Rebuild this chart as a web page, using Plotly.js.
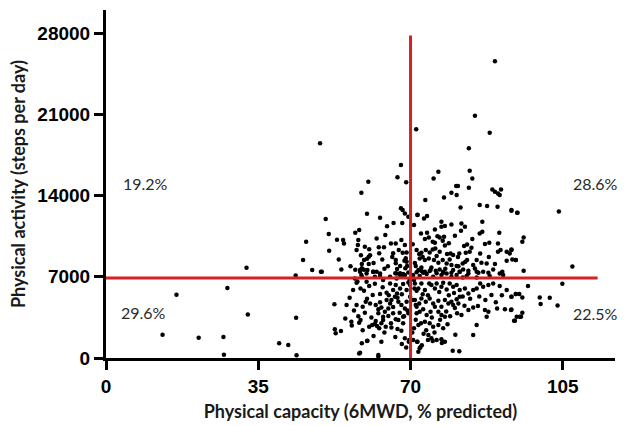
<!DOCTYPE html>
<html>
<head>
<meta charset="utf-8">
<script src="https://cdn.plot.ly/plotly-3.0.1.min.js"></script>
<style>html,body{margin:0;padding:0;background:#fff;}#chart{width:624px;height:426px;}</style>
</head>
<body>
<div id="chart"></div>
<script>
// 6MWD (% predicted) values
const capacity = [
49.2,89.4,84.8,71.3,88.2,83.4,67.8,67.0,69.0,75.3,76.4,83.6,84.2,60.3,80.5,80.9,83.4,88.8,90.8,
32.3,43.6,16.2,27.9,32.6,43.7,13.0,21.3,27.0,39.8,41.9,27.1,43.8,
58.7,50.5,60.0,63.0,67.8,68.2,68.7,71.6,69.5,66.1,64.6,68.1,57.3,58.2,51.2,46.0,53.1,54.5,54.7,58.0,57.9,65.5,66.6,67.9,68.7,
51.3,57.6,60.5,62.7,63.9,58.6,60.7,62.8,66.0,68.2,69.1,45.3,53.5,59.3,60.0,60.4,66.6,68.9,68.6,58.8,60.4,58.8,66.6,66.9,67.6,69.1,69.2,68.8,
47.4,49.4,54.1,57.3,58.4,59.3,60.1,61.4,62.2,64.0,66.5,67.6,68.3,69.5,63.0,58.7,71.8,
57.6,52.5,55.3,56.4,58.2,58.5,52.6,52.8,54.0,58.8,60.1,58.4,62.6,61.2,61.8,62.3,62.8,63.7,60.5,65.6,67.9,68.7,69.7,67.2,68.3,69.5,71.6,71.8,
57.6,59.0,59.7,60.7,62.0,62.6,63.3,64.1,64.9,65.3,65.6,66.4,67.2,67.9,68.7,69.1,69.9,70.6,71.2,
56.8,58.5,59.3,60.5,61.3,63.0,64.5,65.3,66.0,66.6,66.9,67.6,68.3,69.1,69.9,70.8,71.4,
57.2,58.8,59.9,61.8,63.7,65.3,66.8,68.3,69.8,
62.6,63.7,64.9,66.0,66.6,68.3,63.3,64.3,
49.6,58.4,59.9,61.4,63.0,66.8,67.6,68.7,
73.4,77.7,79.4,80.6,81.5,85.9,87.6,90.0,89.4,90.5,90.1,93.2,94.6,71.6,73.1,73.8,77.1,79.4,75.6,77.1,77.9,81.7,82.5,81.6,86.5,70.8,85.9,86.5,90.4,72.4,73.3,74.2,76.7,77.4,77.7,80.2,75.1,75.6,84.2,82.3,83.0,87.1,88.1,90.1,71.4,72.0,72.5,
73.5,75.1,75.7,76.7,78.4,79.2,79.8,81.2,82.7,83.6,90.1,90.7,92.1,92.8,93.2,94.2,
72.1,73.3,74.2,75.4,76.4,77.4,78.3,79.4,80.6,82.0,83.0,84.4,85.2,86.3,87.5,89.4,92.1,
71.2,72.5,73.3,74.6,75.8,76.7,77.5,79.8,81.3,82.1,83.3,84.8,85.6,86.7,89.0,91.1,
70.6,72.1,73.7,75.2,77.1,78.3,79.4,80.6,82.0,82.9,85.2,88.2,91.3,
71.0,71.8,72.5,73.3,74.3,74.8,75.6,76.0,77.1,77.5,78.3,79.0,79.8,80.6,81.3,82.5,83.3,84.4,85.2,86.0,86.7,87.9,89.0,90.5,92.1,94.2,88.6,93.2,
71.0,72.0,71.4,72.5,73.5,74.4,75.2,76.4,77.1,77.9,78.7,79.4,79.8,80.6,81.3,
71.4,72.1,72.9,73.7,74.6,75.6,76.4,77.1,77.9,80.7,81.7,83.3,84.4,85.5,87.1,87.9,89.9,91.7,93.1,94.4,95.1,94.0,
70.8,71.8,73.3,74.4,75.2,76.4,77.5,85.2,87.5,
70.6,71.5,74.1,74.8,76.0,77.1,77.9,84.4,
72.1,79.7,81.2,
71.4,72.9,74.4,76.0,77.5,79.4,81.3,83.3,85.2,87.9,90.5,
93.2,94.5,104.1,96.0,95.7,93.2,93.4,94.2,96.0,107.2,97.0,104.9,93.2,94.2,95.0,95.7,99.7,102.0,99.9,103.8,93.2,95.7,95.4,93.8,
58.2,60.0,62.6,63.3,72.3,74.0,75.1,77.2,69.6,
56.0,57.0,58.0,59.5,61.0,62.0,63.0,64.5,66.0,67.5,68.5,69.3,60.0,61.8,63.6,65.0,67.0,68.0,69.5,57.8,59.0,61.5,64.0,66.5,68.0,69.0,56.5,55.0,65.5,67.0,
71.2,72.4,73.6,74.9,76.8,78.2,79.1,80.2,81.0,82.4,83.7,85.8,87.2,89.6,91.0,70.9,72.8,74.0,76.6,78.8,80.0,82.0,73.0,75.5,78.5,80.3,72.6,70.4,
71.0,72.8,74.4,76.0,77.9,79.0,80.9,82.6,84.0,86.0,88.0,70.5,73.8,76.2,78.8,72.5,74.8,78.0,81.0,
59.5,61.5,63.5,64.8,65.8,67.3,62.2,64.2,56.2
];
// steps per day values
const steps = [
18522,25590,20875,19730,19410,18090,16630,15590,15160,15480,16050,16140,15480,15190,14820,14820,14670,14530,14530,
7780,7120,5450,6030,3760,3470,2010,1750,1810,1270,1120,280,230,
14240,11975,12430,12090,12900,12750,12460,12350,12170,11630,11350,11630,10800,11030,10680,10020,10190,10170,9880,10170,9740,9880,9880,10170,9740,
9250,9300,9370,9540,9540,8850,8850,9020,9020,9070,9100,8440,8500,8440,8550,8730,8440,8590,8380,8100,8100,7730,8160,7670,7930,8300,7930,7730,
7580,7440,7640,7600,7580,7600,7580,7440,7440,7700,7300,7300,7240,7380,7060,7150,7580,
6490,4630,4570,3130,3040,3270,2470,2130,2330,1270,1490,460,260,2840,2930,2760,2560,3270,2700,2640,2350,1700,1550,3270,3560,3850,1410,540,
4565,4422,4853,4709,4565,4192,4364,3991,4278,4709,4996,5283,4853,4565,4278,4853,5283,4996,4565,
5858,6001,5800,6202,5427,5513,5628,6432,5858,6289,5571,6001,6375,5858,6289,6719,5800,
6863,7007,6576,7007,6719,7007,6863,7007,6719,
3847,3560,3618,3847,3330,2986,2986,2699,
7437,7437,7294,7437,7294,7294,7150,7150,
13612,13841,14243,14042,12980,13180,13094,13037,14330,14042,14186,12750,12520,12320,12032,12233,11745,11515,11084,11314,11372,11601,11314,10969,11745,11458,10739,10883,10797,10739,10251,10395,10395,10107,10452,10538,10021,9935,10251,9648,9792,9821,9935,9878,9303,8959,9074,
9303,9361,9447,9160,8959,9016,8873,9016,9074,9160,9160,9303,9160,9016,9361,8442,
8586,8442,8586,8442,8212,8442,8155,8011,7925,8155,8442,8011,8442,8212,8155,8097,8384,
7925,7810,7437,7580,7523,7638,7351,7580,7437,7638,7523,7724,7351,7437,7638,7437,
7150,7063,7236,7006,7150,7293,7006,7150,6948,7063,6948,7063,7150,
6432,6001,6432,5858,6432,6289,6001,6432,6145,6490,5915,6432,6145,6289,5858,6001,5571,5858,6001,6432,6145,6289,6432,6202,5858,5513,5427,5283,
5000,4709,4422,5140,4853,5140,4709,4939,4422,4996,4709,4853,4565,5054,5283,
3847,3991,4192,3704,3991,4422,3991,3704,3560,3847,3704,4135,4364,4479,4135,3991,4278,4192,4135,3560,3560,3215,
2555,2842,3130,2986,2699,2842,2555,2842,3560,
1550,1406,1981,1693,1550,1607,1406,1981,
832,631,574,
7400,7350,7500,7300,7437,7350,7437,7294,7437,7350,7294,
12692,12520,12635,10395,10021,9303,8499,8442,7523,7896,6202,6403,5283,5512,5512,5225,5225,5197,4651,4536,4191,3904,3560,3215,
380,1460,100,1400,950,1550,1460,1290,1400,
5200,4100,3600,3900,3500,3200,4800,5000,4400,3900,3600,4100,5100,6400,6100,5400,5200,5500,6500,6600,2400,1900,2200,1800,1200,900,2800,3400,3000,2500,
3300,3000,2400,3500,3300,4000,3600,4300,4700,4500,5100,5300,5000,4800,5400,6000,5500,5400,5700,5400,5600,5300,2100,2200,2900,2000,1100,2200,
8200,8700,9100,8800,9700,8500,8700,8300,9500,9000,8700,9800,10800,10500,9900,7500,7800,7700,7900,
9600,8200,8500,7900,8700,9300,10300,10600,7900
];
const xTicks = [0, 35, 70, 105];
const yTicks = [0, 7000, 14000, 21000, 28000];
const capacityCut = 70;
const stepsCut = 6900;
const quadrantLabels = ["19.2%", "28.6%", "29.6%", "22.5%"];

const trace = {
  type: 'scatter', mode: 'markers', x: capacity, y: steps,
  marker: {color: '#000', size: 4.5}, hoverinfo: 'none', cliponaxis: false
};
const red = '#d42027';
const tickFont = {family: 'Liberation Sans, Arial, sans-serif', size: 19, color: '#000', weight: 'bold'};
const titleFont = {family: 'Lato, sans-serif', size: 18, color: '#1a1a1a', weight: 'bold'};
const annFont = {family: 'Lato, sans-serif', size: 16, color: '#2a2a2a'};
const layout = {
  width: 624, height: 426,
  margin: {l: 106, r: 9, t: 10, b: 68},
  paper_bgcolor: '#fff', plot_bgcolor: '#fff',
  showlegend: false,
  xaxis: {
    range: [0, 117], tickvals: xTicks, ticktext: xTicks.map(String),
    ticks: 'outside', ticklen: 9, tickwidth: 3, tickcolor: '#000',
    showline: true, linewidth: 3, linecolor: '#000',
    showgrid: false, zeroline: false, tickfont: tickFont,
    title: {text: 'Physical capacity (6MWD, % predicted)', font: titleFont, standoff: 10}
  },
  yaxis: {
    range: [0, 30000], tickvals: yTicks, ticktext: yTicks.map(String),
    ticks: 'outside', ticklen: 9, tickwidth: 3, tickcolor: '#000',
    showline: true, linewidth: 3, linecolor: '#000',
    showgrid: false, zeroline: false, tickfont: tickFont,
    title: {text: 'Physical activity (steps per day)', font: titleFont, standoff: 8}
  },
  shapes: [
    {type: 'line', xref: 'x', yref: 'y', x0: capacityCut, x1: capacityCut, y0: 0, y1: 27800, line: {color: red, width: 3}},
    {type: 'line', xref: 'x', yref: 'y', x0: 0, x1: 113, y0: stepsCut, y1: stepsCut, line: {color: red, width: 3}}
  ],
  annotations: [
    {x: 9, y: 15076, text: quadrantLabels[0], showarrow: false, font: annFont},
    {x: 112.6, y: 15076, text: quadrantLabels[1], showarrow: false, font: annFont},
    {x: 8.7, y: 3963, text: quadrantLabels[2], showarrow: false, font: annFont},
    {x: 112.6, y: 3877, text: quadrantLabels[3], showarrow: false, font: annFont}
  ]
};
Plotly.newPlot('chart', [trace], layout, {displayModeBar: false, staticPlot: true});
</script>
</body>
</html>
